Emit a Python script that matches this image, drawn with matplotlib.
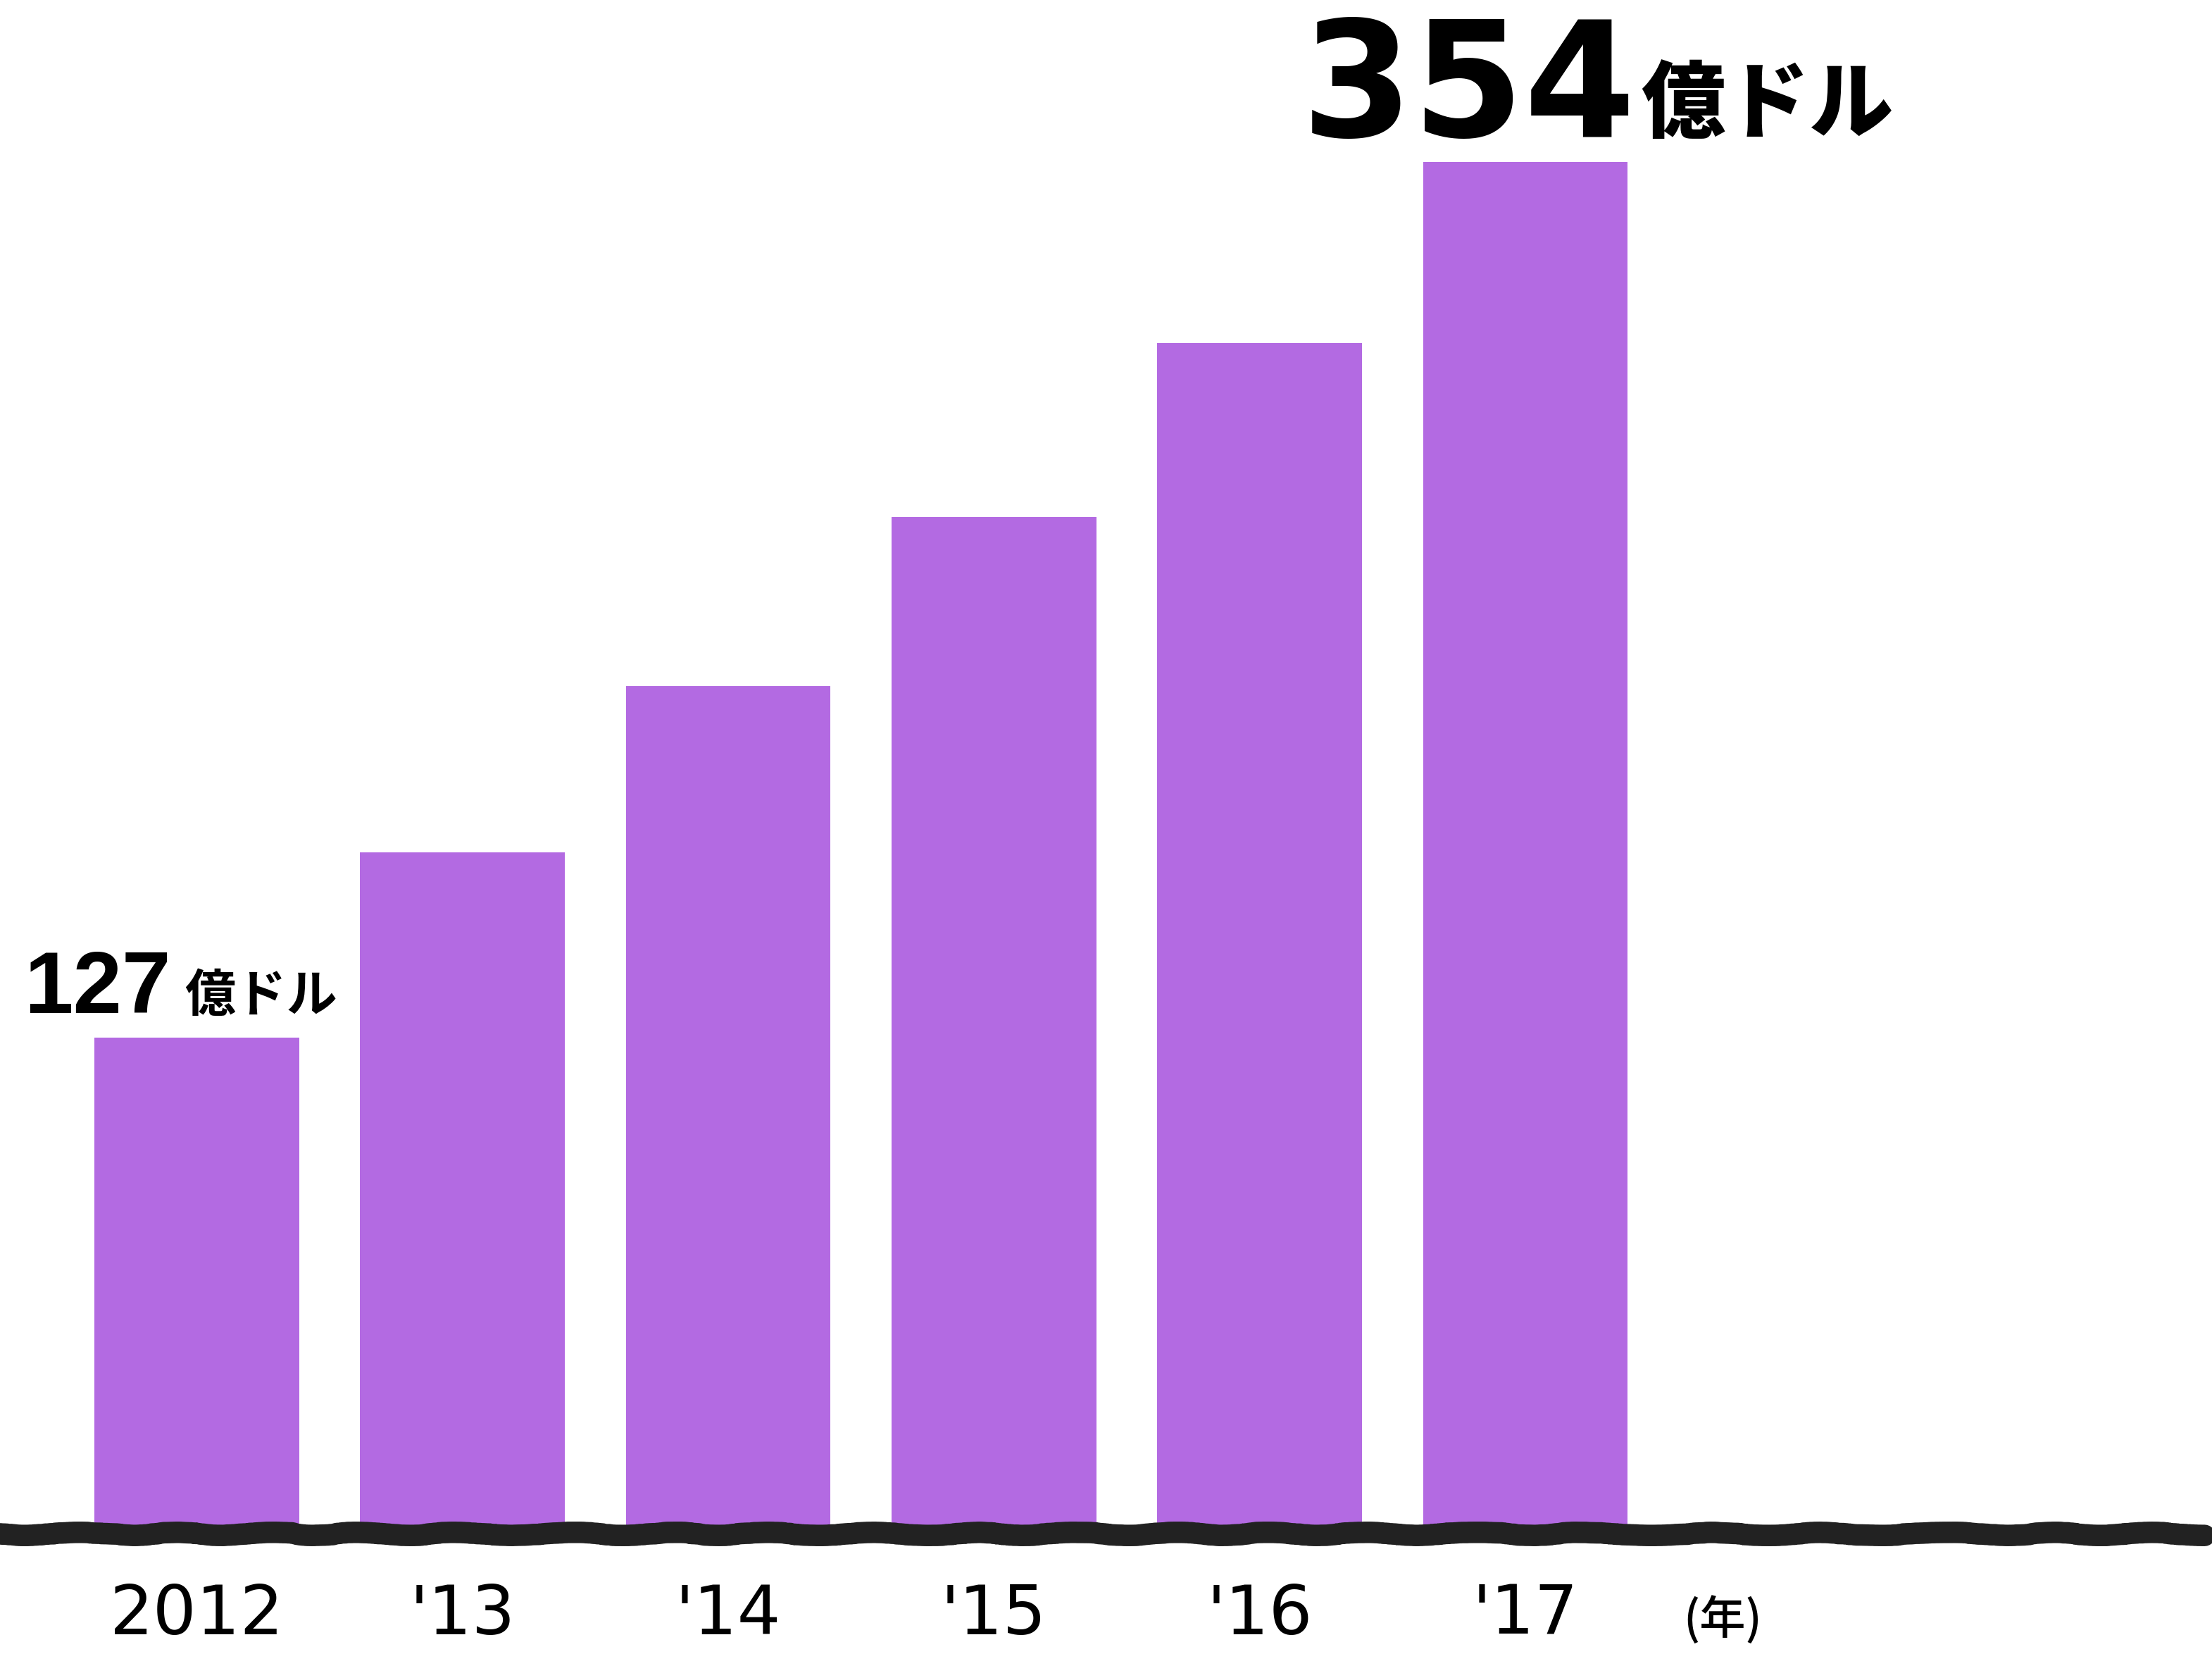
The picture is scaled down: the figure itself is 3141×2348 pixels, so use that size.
import matplotlib
matplotlib.use("Agg")
import matplotlib.pyplot as plt

# data
years = ["2012", "'13", "'14", "'15", "'16", "'17"]
values = [127, 175, 218, 262, 307, 354]
unit = "億ドル"
year_unit = "(年)"

BAR_COLOR = "#b36ae2"
LINE_COLOR = "#222222"

LATIN = ["DejaVu Sans"]
HELV = ["Liberation Sans", "DejaVu Sans"]
JP = ["Noto Sans CJK JP", "DejaVu Sans"]

W, H = 3141, 2348
fig = plt.figure(figsize=(W / 100, H / 100), dpi=100)
# axes fill the figure; baseline at pixel row 2168
ax = fig.add_axes([0, (H - 2168) / H, 1, 2168 / H])
px_per_unit = 5.475
ax.set_ylim(0, 2168 / px_per_unit)
pitch = 377.3
x0 = 279.4
ax.set_xlim(-x0 / pitch, (W - x0) / pitch)
ax.axis("off")

xs = list(range(len(years)))
ax.bar(xs, values, width=0.77, color=BAR_COLOR, zorder=2)

# brush-like baseline, only slightly wavy
base, = ax.plot([-x0 / pitch - 0.05, (W - x0) / pitch - 0.03], [-1.6, -1.6],
                color=LINE_COLOR, lw=22, solid_capstyle="round",
                clip_on=False, zorder=3)
base.set_sketch_params(scale=2.2, length=320, randomness=10)

# year labels
for x, lab in zip(xs, years):
    ax.annotate(lab, xy=(x, 0), xytext=(0, -152), textcoords="offset pixels",
                ha="center", va="baseline", fontsize=70, family=LATIN,
                color="black")
ax.annotate(year_unit, xy=(len(years) - 1, 0), xytext=(280, -152),
            textcoords="offset pixels", ha="center", va="baseline",
            fontsize=47, fontweight="medium", family=JP, color="black")

# first value label
ax.annotate(str(values[0]), xy=(0, values[0]), xytext=(-245, 35),
            textcoords="offset pixels", ha="left", va="baseline",
            fontsize=90, fontweight="bold", family=HELV, color="black")
ax.annotate(unit, xy=(0, values[0]), xytext=(-17, 37),
            textcoords="offset pixels", ha="left", va="baseline",
            fontsize=52, fontweight="bold", family=JP, color="black")

# last value label
last = len(values) - 1
ax.annotate(str(values[last]), xy=(last, values[last]), xytext=(-318, 36),
            textcoords="offset pixels", ha="left", va="baseline",
            fontsize=164, fontweight="bold", family=LATIN, color="black")
ax.annotate(unit, xy=(last, values[last]), xytext=(164, 44),
            textcoords="offset pixels", ha="left", va="baseline",
            fontsize=86, fontweight="heavy", family=JP, color="black")

fig.savefig("out.png", dpi=100, facecolor="white")
